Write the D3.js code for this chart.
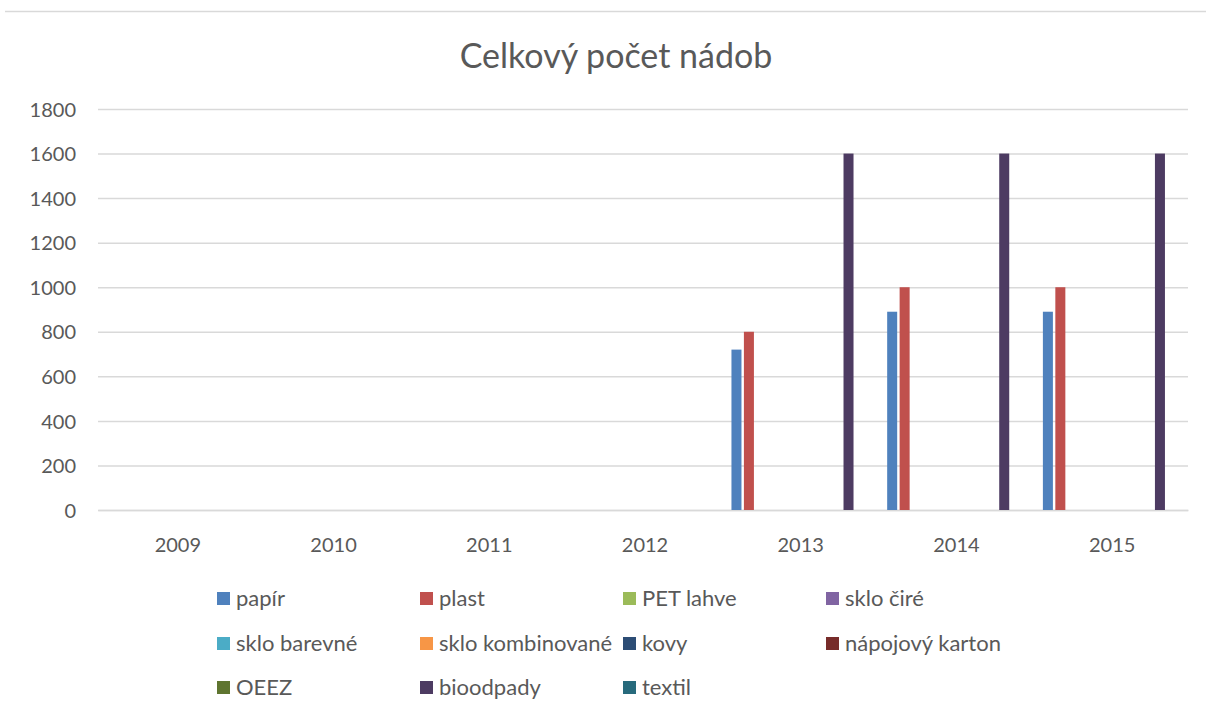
<!DOCTYPE html>
<html lang="cs">
<head>
<meta charset="UTF-8" />
<title>Celkový počet nádob</title>
<style>
  body { margin: 0; background: #fff; }
  text { font-family: Lato, "Open Sans", sans-serif; fill: #595959; }
</style>
</head>
<body>
<svg id="chart" width="1206" height="713"></svg>
<script src="https://d3js.org/d3.v7.min.js"></script>
<script>
  const years = ["2009", "2010", "2011", "2012", "2013", "2014", "2015"];
  const seriesNames = ["papír", "plast", "PET lahve", "sklo čiré", "sklo barevné",
    "sklo kombinované", "kovy", "nápojový karton", "OEEZ", "bioodpady", "textil"];
  const seriesColors = ["#4f81bd", "#c0504d", "#9bbb59", "#8064a2", "#4bacc6",
    "#f79646", "#2c4d75", "#772c2a", "#5f7530", "#4d3b62", "#276a7c"];

  // hodnoty po letech 2009..2015 (prázdné = null)
  const papir = [null, null, null, null, 720, 890, 890];
  const plast = [null, null, null, null, 800, 1000, 1000];
  const bioodpady = [null, null, null, null, 1600, 1600, 1600];
  const empty = [null, null, null, null, null, null, null];
  const seriesValues = [papir, plast, empty, empty, empty, empty, empty, empty, empty, bioodpady, empty];

  const yTicks = [0, 200, 400, 600, 800, 1000, 1200, 1400, 1600, 1800];

  const svg = d3.select("#chart");

  // horní linka
  svg.append("line")
    .attr("x1", 5).attr("x2", 1206)
    .attr("y1", 11.5).attr("y2", 11.5)
    .style("stroke", "#d9d9d9").style("stroke-width", 1.5);

  svg.append("text")
    .attr("x", 616).attr("y", 68)
    .attr("text-anchor", "middle")
    .attr("font-size", "34px")
    .text("Celkový počet nádob");

  const plotLeft = 98, plotRight = 1188, plotTop = 109, plotBottom = 510;

  const y = d3.scaleLinear().domain([0, 1800]).range([plotBottom, plotTop]);
  const x0 = d3.scaleBand().domain(years).range([plotLeft, plotRight]).padding(0);
  const pad = 10.6;
  const x1 = d3.scaleBand().domain(d3.range(seriesNames.length))
    .range([pad, x0.bandwidth() - pad]).paddingInner(0.196);

  // mřížka
  const yAxis = d3.axisLeft(y).tickValues(yTicks).tickFormat(d3.format("d"))
    .tickSize(-(plotRight - plotLeft));
  const gy = svg.append("g").attr("transform", `translate(${plotLeft},0)`).call(yAxis);
  gy.select(".domain").remove();
  gy.selectAll(".tick line").style("stroke", "#d9d9d9").style("stroke-width", 1.5);
  gy.selectAll(".tick text").attr("font-size", "20px").attr("x", -22).attr("dy", "0.36em");

  const xAxis = d3.axisBottom(x0).tickSize(0).tickPadding(27);
  const gx = svg.append("g").attr("transform", `translate(2,${plotBottom})`).call(xAxis);
  gx.select(".domain").attr("transform", "translate(-2,0)")
    .style("stroke", "#d9d9d9").style("stroke-width", 1.5);
  gx.selectAll(".tick text").attr("font-size", "20px").attr("y", 42).attr("dy", 0);

  const rows = [];
  years.forEach((yr, i) => {
    seriesValues.forEach((vals, s) => {
      if (vals[i] != null) rows.push({ year: yr, s: s, value: vals[i] });
    });
  });

  svg.append("g").selectAll("rect")
    .data(rows)
    .enter()
    .append("rect")
    .attr("x", d => x0(d.year) + x1(d.s))
    .attr("width", x1.bandwidth())
    .attr("y", d => y(d.value))
    .attr("height", d => y(0) - y(d.value))
    .attr("fill", d => seriesColors[d.s]);

  // legenda
  const legendX = [217, 420, 623, 826];
  const legendY = [598, 643, 687];
  const lg = svg.append("g").selectAll("g")
    .data(seriesNames)
    .enter()
    .append("g")
    .attr("transform", (d, i) => `translate(${legendX[i % 4]},${legendY[Math.floor(i / 4)]})`);
  lg.append("rect")
    .attr("x", 0).attr("y", -6)
    .attr("width", 13).attr("height", 13)
    .attr("fill", (d, i) => seriesColors[i]);
  lg.append("text")
    .attr("x", 19).attr("y", 7.5)
    .attr("font-size", "22px")
    .text(d => d);
</script>
</body>
</html>
